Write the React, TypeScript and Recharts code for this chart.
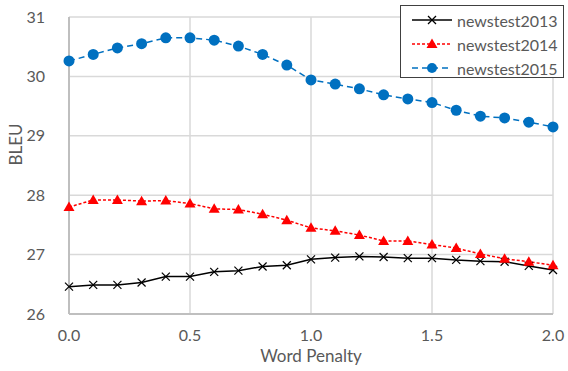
import React from "react";
import { LineChart, Line, XAxis, YAxis, CartesianGrid, Legend } from "recharts";

const penalty = [0, 0.1, 0.2, 0.3, 0.4, 0.5, 0.6, 0.7, 0.8, 0.9, 1.0, 1.1, 1.2, 1.3, 1.4, 1.5, 1.6, 1.7, 1.8, 1.9, 2.0];
const newstest2013 = [26.46, 26.49, 26.49, 26.53, 26.63, 26.63, 26.71, 26.73, 26.8, 26.82, 26.92, 26.95, 26.97, 26.96, 26.94, 26.94, 26.91, 26.89, 26.88, 26.81, 26.74];
const newstest2014 = [27.8, 27.92, 27.92, 27.9, 27.91, 27.86, 27.77, 27.76, 27.68, 27.58, 27.45, 27.4, 27.33, 27.23, 27.23, 27.17, 27.11, 27.01, 26.93, 26.88, 26.82];
const newstest2015 = [30.26, 30.37, 30.48, 30.55, 30.65, 30.65, 30.61, 30.51, 30.37, 30.19, 29.94, 29.87, 29.79, 29.69, 29.62, 29.56, 29.43, 29.33, 29.3, 29.23, 29.15];
const xTicks = [0, 0.5, 1.0, 1.5, 2.0];
const yTicks = [26, 27, 28, 29, 30, 31];

const data = penalty.map((p, i) => ({
  p,
  newstest2013: newstest2013[i],
  newstest2014: newstest2014[i],
  newstest2015: newstest2015[i],
}));

const FONT = "Lato, 'Open Sans', sans-serif";
const TEXT = "#595959";

const CrossDot = (props: any) => {
  const { cx, cy } = props;
  if (cx == null || cy == null) return null;
  const s = 4;
  return (
    <g>
      <line x1={cx - s} y1={cy - s} x2={cx + s} y2={cy + s} stroke="#000" strokeWidth={1.2} />
      <line x1={cx - s} y1={cy + s} x2={cx + s} y2={cy - s} stroke="#000" strokeWidth={1.2} />
    </g>
  );
};

const TriDot = (props: any) => {
  const { cx, cy } = props;
  if (cx == null || cy == null) return null;
  return <polygon points={`${cx},${cy - 5.5} ${cx + 5.5},${cy + 4} ${cx - 5.5},${cy + 4}`} fill="#ff0000" />;
};

const CircleDot = (props: any) => {
  const { cx, cy } = props;
  if (cx == null || cy == null) return null;
  return <circle cx={cx} cy={cy} r={5.5} fill="#0070c0" />;
};

const legendItems = [
  { name: "newstest2013", color: "#000", dash: undefined, marker: "x" },
  { name: "newstest2014", color: "#ff0000", dash: "3 2", marker: "tri" },
  { name: "newstest2015", color: "#0070c0", dash: "6 4", marker: "circle" },
];

const CustomLegend = () => (
  <div
    style={{
      position: "absolute",
      left: 400,
      top: 5,
      width: 164,
      height: 73,
      background: "#fff",
      border: "1px solid #404040",
      boxSizing: "border-box",
      fontFamily: FONT,
    }}
  >
    {legendItems.map((it, i) => (
      <div key={it.name} style={{ position: "absolute", left: 10, top: 3 + i * 24, height: 22, display: "flex", alignItems: "center" }}>
        <svg width={42} height={14} style={{ marginRight: 4 }}>
          <line x1={1} y1={7} x2={41} y2={7} stroke={it.color} strokeWidth={1.5} strokeDasharray={it.dash} />
          {it.marker === "x" && (
            <g>
              <line x1={17} y1={3} x2={25} y2={11} stroke="#000" strokeWidth={1.2} />
              <line x1={17} y1={11} x2={25} y2={3} stroke="#000" strokeWidth={1.2} />
            </g>
          )}
          {it.marker === "tri" && <polygon points="21,1.5 26.5,11 15.5,11" fill="#ff0000" />}
          {it.marker === "circle" && <circle cx={21} cy={7} r={5} fill="#0070c0" />}
        </svg>
        <span style={{ fontSize: 16, color: TEXT }}>{it.name}</span>
      </div>
    ))}
  </div>
);

export default function App() {
  return (
    <div style={{ position: "absolute", left: 0, top: 0, width: 568, height: 371, background: "#fff" }}>
      <LineChart width={568} height={371} data={data} margin={{ top: 17, right: 15, bottom: 0, left: 0 }}>
        <CartesianGrid stroke="#d9d9d9" strokeWidth={1.5} />
        <XAxis
          dataKey="p"
          type="number"
          domain={[0, 2]}
          ticks={xTicks}
          tickFormatter={(v: number) => v.toFixed(1)}
          axisLine={{ stroke: "#bfbfbf", strokeWidth: 2 }}
          tickLine={false}
          tick={{ fill: TEXT, fontSize: 16, fontFamily: FONT }}
          tickMargin={10}
          height={57}
          label={{ value: "Word Penalty", position: "insideBottom", offset: 9, fill: TEXT, fontSize: 17, fontFamily: FONT }}
        />
        <YAxis
          type="number"
          domain={[26, 31]}
          ticks={yTicks}
          axisLine={{ stroke: "#bfbfbf", strokeWidth: 2 }}
          tickLine={false}
          tick={{ fill: TEXT, fontSize: 16, fontFamily: FONT }}
          tickMargin={18}
          width={69}
          label={{ value: "BLEU", angle: -90, position: "insideLeft", offset: 16, fill: TEXT, fontSize: 17, fontFamily: FONT }}
        />
        <Legend content={<CustomLegend />} wrapperStyle={{ position: "absolute", left: 0, top: 0 }} />
        <Line dataKey="newstest2013" name="newstest2013" stroke="#000" strokeWidth={1.5} dot={<CrossDot />} activeDot={false} isAnimationActive={false} />
        <Line dataKey="newstest2014" name="newstest2014" stroke="#ff0000" strokeWidth={1.5} strokeDasharray="3 2" dot={<TriDot />} activeDot={false} isAnimationActive={false} />
        <Line dataKey="newstest2015" name="newstest2015" stroke="#0070c0" strokeWidth={1.5} strokeDasharray="6 4" dot={<CircleDot />} activeDot={false} isAnimationActive={false} />
      </LineChart>
    </div>
  );
}
